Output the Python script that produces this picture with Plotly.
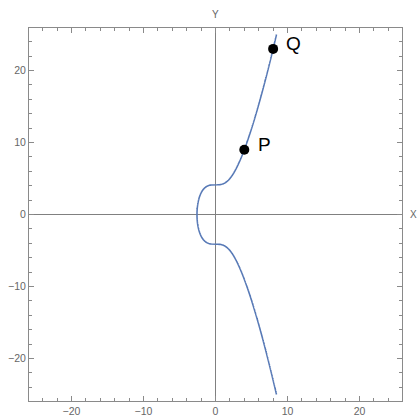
import numpy as np
import plotly.graph_objects as go

# Elliptic curve y^2 = x^3 + a*x + b
curve_a = 0.0
curve_b = 17.0
y_limit = 25.0

# Marked points on the curve
point_names = ["P", "Q"]
point_x = [4, 8]
point_y = [9, 23]

tick_vals = [-20, -10, 0, 10, 20]
tick_text = ["\u221220", "\u221210", "0", "10", "20"]

# Trace the curve by solving x for each y (single real root here)
ys = np.linspace(-y_limit, y_limit, 2001)
xs = []
for yv in ys:
    roots = np.roots([1.0, 0.0, curve_a, curve_b - yv * yv])
    real = roots[np.abs(roots.imag) < 1e-7].real
    xs.append(real.max())
xs = np.array(xs)

font_family = "Liberation Sans, Arial"

fig = go.Figure()
fig.add_trace(go.Scatter(x=xs, y=ys, mode="lines",
                         line=dict(color="#5779b6", width=1.6, simplify=False),
                         hoverinfo="skip", showlegend=False))
fig.add_trace(go.Scatter(x=point_x, y=point_y, mode="markers",
                         marker=dict(color="black", size=10),
                         showlegend=False))

axis_common = dict(
    range=[-25.9, 25.9], showgrid=False, zeroline=True, zerolinecolor="#808080",
    zerolinewidth=1, showline=True, linecolor="#8a8a8a", linewidth=1,
    mirror="ticks", ticks="inside", ticklen=5, tickcolor="#8a8a8a",
    tickvals=tick_vals, ticktext=tick_text, automargin=False,
    tickfont=dict(family=font_family, size=10.5, color="#666666"),
    minor=dict(dtick=2, ticks="inside", ticklen=3, tickcolor="#8a8a8a"),
)

annotations = [
    dict(x=1.0, y=0, xref="paper", yref="y", text="X", showarrow=False,
         xanchor="left", xshift=6,
         font=dict(family=font_family, size=10, color="#666666")),
    dict(x=0, y=1.0, xref="x", yref="paper", text="Y", showarrow=False,
         yanchor="bottom", yshift=6,
         font=dict(family=font_family, size=10, color="#666666")),
]
for name, px, py in zip(point_names, point_x, point_y):
    annotations.append(dict(x=px, y=py, xref="x", yref="y", text=name,
                            showarrow=False, xshift=20, yshift=5,
                            font=dict(family=font_family, size=19, color="black")))

fig.update_layout(
    width=417, height=419,
    margin=dict(l=29, r=15, t=28, b=18, autoexpand=False),
    paper_bgcolor="white", plot_bgcolor="white",
    xaxis=dict(**axis_common),
    yaxis=dict(**axis_common),
    annotations=annotations,
)

fig.write_html("out.html")
